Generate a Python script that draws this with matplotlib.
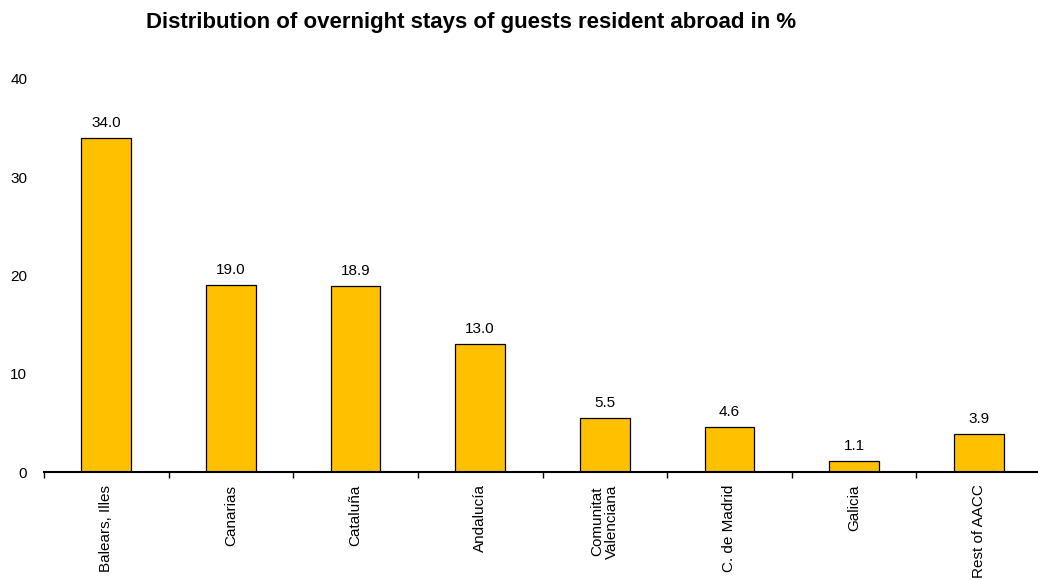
import numpy as np
import matplotlib
import matplotlib.pyplot as plt

matplotlib.rcParams['font.family'] = ['Liberation Sans', 'DejaVu Sans']

# data
regioes = ['Balears, Illes', 'Canarias', 'Cataluña', 'Andalucía',
           'Comunitat\nValenciana', 'C. de Madrid', 'Galicia', 'Rest of AACC']
valores = [34.0, 19.0, 18.9, 13.0, 5.5, 4.6, 1.1, 3.9]

fig = plt.figure(figsize=(10.38, 5.8), dpi=100)
ax = fig.add_axes([44 / 1038, 108 / 580, 997 / 1038, 393 / 580])

x = np.arange(len(regioes))
barras = ax.bar(x, valores, width=0.4, color='#FFC000', edgecolor='black', linewidth=0.9, zorder=2)

for xi, v in zip(x, valores):
	ax.text(xi, v + 0.8, '%.1f' % v, ha='center', va='bottom', fontsize=11)

ax.set_xlim(-0.5, 7.5)
ax.set_ylim(0, 40)
ax.set_yticks([0, 10, 20, 30, 40])
ax.tick_params(axis='y', length=0, labelsize=11, pad=12)

ax.set_xticks(x)
ax.set_xticklabels(regioes, rotation=90, fontsize=11, linespacing=1.05)
ax.tick_params(axis='x', which='major', length=0, pad=9)
ax.set_xticks(np.arange(-0.5, 8, 1), minor=True)
ax.tick_params(axis='x', which='minor', length=4, width=1, direction='out')

for lado in ['top', 'right', 'left']:
	ax.spines[lado].set_visible(False)
ax.spines['bottom'].set_linewidth(1.5)

fig.text(0.454, 0.962, 'Distribution of overnight stays of guests resident abroad in %',
         ha='center', va='center', fontsize=16, fontweight='bold')

fig.savefig('out.png', dpi=100)
